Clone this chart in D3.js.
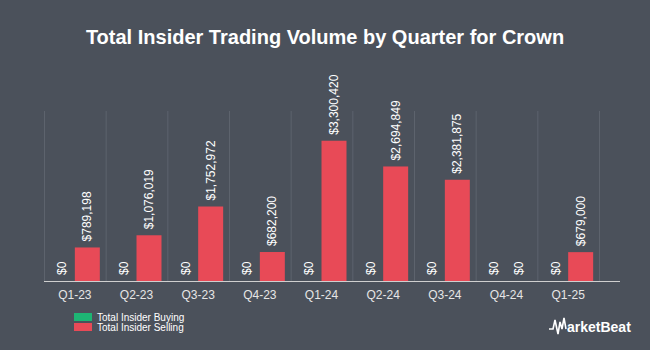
<!DOCTYPE html>
<html>
<head>
<meta charset="utf-8">
<script src="https://cdn.jsdelivr.net/npm/d3@7"></script>
<style>
  body { margin: 0; background: #4b515b; }
  svg { display: block; font-family: "Liberation Sans", Arial, sans-serif; }
</style>
</head>
<body>
<svg id="chart" width="650" height="350"></svg>
<script>
// Chart data
const quarters = ["Q1-23", "Q2-23", "Q3-23", "Q4-23", "Q1-24", "Q2-24", "Q3-24", "Q4-24", "Q1-25"];
const buying = [0, 0, 0, 0, 0, 0, 0, 0, 0];
const selling = [789198, 1076019, 1752972, 682200, 3300420, 2694849, 2381875, 0, 679000];
const seriesNames = ["Total Insider Buying", "Total Insider Selling"];
const seriesColors = ["#1db574", "#e84a57"];

const svg = d3.select("#chart");
const margin = { top: 111, left: 44, right: 51, bottom: 69 };
const width = 650 - margin.left - margin.right,
      height = 350 - margin.top - margin.bottom;

svg.append("rect").attr("width", 650).attr("height", 350).attr("fill", "#4b515b");

// Title
svg.append("text")
    .attr("x", 325).attr("y", 44)
    .attr("text-anchor", "middle")
    .style("font-family", "'Liberation Sans Narrow', 'Arial Narrow', sans-serif")
    .style("font-weight", "bold")
    .style("font-size", "20px")
    .style("fill", "#ffffff")
    .text("Total Insider Trading Volume by Quarter for Crown");

const g = svg.append("g").attr("transform", `translate(${margin.left},${margin.top})`);

// Scales
const x = d3.scaleBand().domain(quarters).range([0, width * 9 / 9]).paddingInner(0).paddingOuter(0);
const y = d3.scaleLinear().domain([0, 4000000]).range([height, 0]);
const barW = 25;

// Vertical grid lines at band boundaries
const bounds = quarters.map(q => x(q)).concat([x.range()[1]]);
g.selectAll(".grid")
    .data(bounds)
    .enter().append("line")
    .attr("x1", d => d + 0.5).attr("x2", d => d + 0.5)
    .attr("y1", 0).attr("y2", height)
    .attr("stroke", "#5d636d")
    .attr("stroke-width", 1);

// Bars
const data = quarters.map((q, i) => ({ q, vals: [buying[i], selling[i]] }));
const groups = g.selectAll(".grp")
    .data(data)
    .enter().append("g")
    .attr("transform", d => `translate(${x(d.q) + x.bandwidth() / 2},0)`);

groups.each(function (d) {
    const grp = d3.select(this);
    d.vals.forEach((v, k) => {
        const cx = (k === 0 ? -12.5 : 12.5);
        grp.append("rect")
            .attr("x", cx - barW / 2)
            .attr("y", y(v))
            .attr("width", barW)
            .attr("height", height - y(v))
            .attr("fill", seriesColors[k]);
        grp.append("text")
            .attr("transform", `translate(${cx + 4},${y(v) - 6}) rotate(-90)`)
            .style("font-size", "12px")
            .style("fill", "#ffffff")
            .text("$" + d3.format(",")(v));
    });
});

// X axis
const xAxis = g.append("g")
    .attr("transform", `translate(0,${height})`)
    .call(d3.axisBottom(x).tickSize(0).tickPadding(9));
xAxis.select(".domain").remove();
xAxis.selectAll("text")
    .style("font-size", "12px")
    .style("font-family", "'Liberation Sans', Arial, sans-serif")
    .style("fill", "#e6e6e6");
g.append("line")
    .attr("x1", 0).attr("x2", 576)
    .attr("y1", height + 0.5).attr("y2", height + 0.5)
    .attr("stroke", "#cfcfcf");

// Legend
const legend = svg.selectAll(".legend")
    .data(seriesNames)
    .enter().append("g")
    .attr("transform", (d, i) => `translate(74,${313 + i * 10})`);
legend.append("rect")
    .attr("width", 18).attr("height", 8)
    .attr("fill", (d, i) => seriesColors[i]);
legend.append("text")
    .attr("x", 23).attr("y", 7.5)
    .style("font-size", "10px")
    .style("fill", "#ffffff")
    .text(d => d);

// MarketBeat logo
const logo = svg.append("g").attr("transform", "translate(549,318)");
logo.append("path")
    .attr("d", "M0,11 L4,11 L6,2 L9,16 L11,4 L13,11 L15,0 L17,11")
    .attr("fill", "none")
    .attr("stroke", "#ffffff")
    .attr("stroke-width", 1.6);
logo.append("text")
    .attr("x", 18).attr("y", 14)
    .style("font-size", "14px")
    .style("font-weight", "bold")
    .style("fill", "#ffffff")
    .text("arketBeat");
</script>
</body>
</html>
